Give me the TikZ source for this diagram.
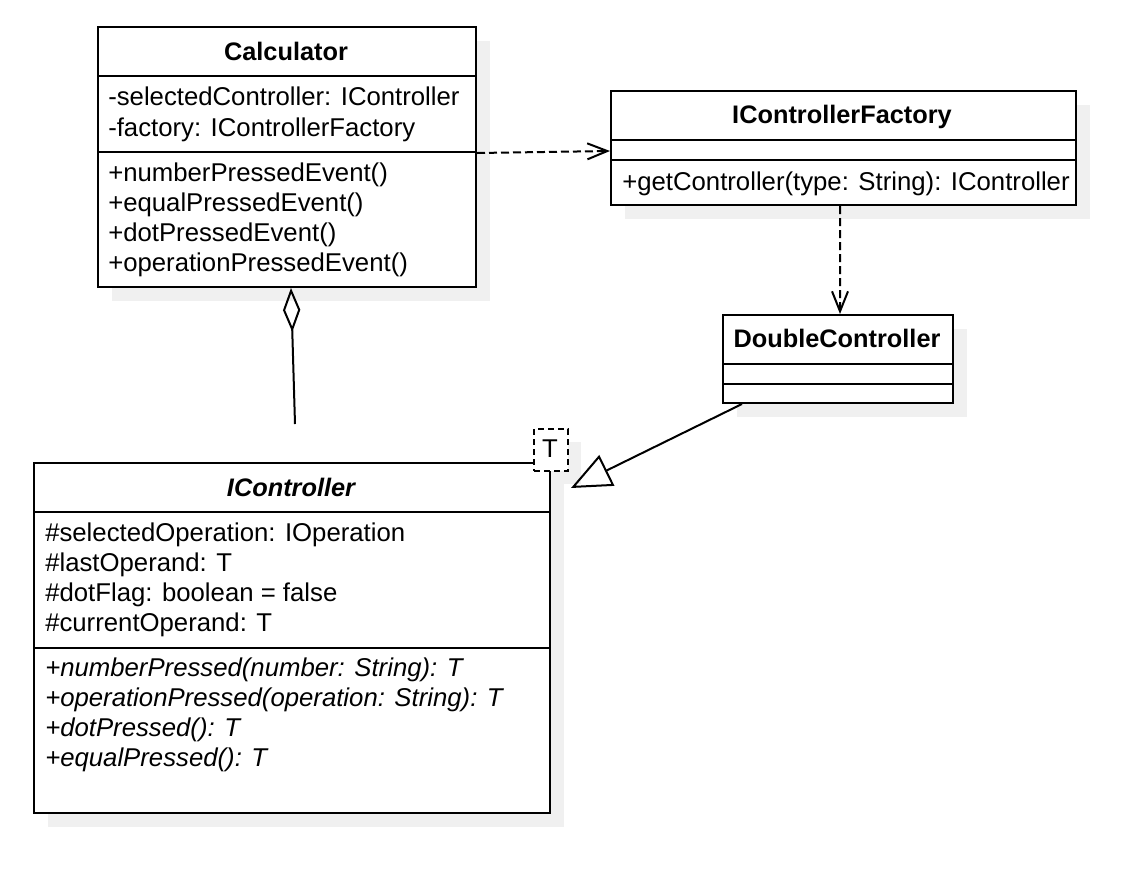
\documentclass[tikz,border=0pt]{standalone}
\usepackage{fontspec}
\setmainfont{Liberation Sans}
\usetikzlibrary{arrows.meta,shadows}
\definecolor{shadowgray}{RGB}{240,240,240}
\begin{document}
\begin{tikzpicture}[x=0.75pt,y=-0.75pt,
  cls/.style={draw, line width=1.5pt, fill=white, inner sep=0pt, anchor=north west,
    drop shadow={shadow xshift=10.5pt, shadow yshift=-10.5pt, fill=shadowgray, opacity=1}},
  txt/.style={anchor=base west, inner sep=0pt, font=\fontsize{19.3pt}{22.5pt}\selectfont},
  ttl/.style={anchor=base, inner sep=0pt, font=\fontsize{19pt}{22.5pt}\selectfont\bfseries},
  itxt/.style={txt, font=\fontsize{19.3pt}{22.5pt}\selectfont\itshape},
  sep/.style={line width=1.5pt},
  conn/.style={line width=1.5pt},
  dep/.style={conn, dash pattern=on 6pt off 3pt, -{Straight Barb[length=15pt,width=12pt,line width=1.5pt]}}]
\useasboundingbox (0,0) rectangle (1140,886);
\fill[white] (0,0) rectangle (1140,886);

% Calculator
\node[cls, minimum width=283.5pt, minimum height=195pt] (calc) at (97,26) {};
\draw[sep] (calc.north west) ++(0,50) -- ++(378,0);
\draw[sep] (calc.north west) ++(0,126) -- ++(378,0);
\node[ttl] (calcT) at (286,60) {Calculator};
\node[txt] (ca1) at (108,105) {-selectedController: IController};
\node[txt] (ca2) at (108,136) {-factory: IControllerFactory};
\node[txt] (cm1) at (108,181) {+numberPressedEvent()};
\node[txt] (cm2) at (108,211) {+equalPressedEvent()};
\node[txt] (cm3) at (108,241) {+dotPressedEvent()};
\node[txt] (cm4) at (108,271) {+operationPressedEvent()};

% IControllerFactory
\node[cls, minimum width=348.75pt, minimum height=85.5pt] (fact) at (610,90) {};
\draw[sep] (fact.north west) ++(0,50) -- ++(465,0);
\draw[sep] (fact.north west) ++(0,70) -- ++(465,0);
\node[ttl] (factT) at (842,123) {IControllerFactory};
\node[txt] (fm1) at (622,190) {+getController(type: String): IController};

% DoubleController
\node[cls, minimum width=172.5pt, minimum height=66pt] (dbl) at (722,314) {};
\draw[sep] (dbl.north west) ++(0,50) -- ++(230,0);
\draw[sep] (dbl.north west) ++(0,70) -- ++(230,0);
\node[ttl] (dblT) at (837,347) {DoubleController};

% IController
\fill[shadowgray] (547,442) rectangle (581,484);
\node[cls, minimum width=387pt, minimum height=262.5pt] (ictl) at (33,462) {};
\draw[sep] (ictl.north west) ++(0,50) -- ++(516,0);
\draw[sep] (ictl.north west) ++(0,186) -- ++(516,0);
\node[ttl, font=\fontsize{19pt}{22.5pt}\selectfont\bfseries\itshape] (ictlT) at (291,496) {IController};
\node[txt] (ia1) at (45,541) {\#selectedOperation: IOperation};
\node[txt] (ia2) at (45,571) {\#lastOperand: T};
\node[txt] (ia3) at (45,601) {\#dotFlag: boolean = false};
\node[txt] (ia4) at (45,631) {\#currentOperand: T};
\node[itxt] (im1) at (45,676) {+numberPressed(number: String): T};
\node[itxt] (im2) at (45,706) {+operationPressed(operation: String): T};
\node[itxt] (im3) at (45,736) {+dotPressed(): T};
\node[itxt] (im4) at (45,766) {+equalPressed(): T};

% template parameter box
\node[draw, fill=white, line width=1.5pt, dash pattern=on 4.5pt off 3pt, inner sep=0pt,
  anchor=north west, minimum width=25.5pt, minimum height=31.5pt] (tbox) at (533,428) {};
\node[anchor=base, inner sep=0pt, font=\fontsize{19.3pt}{22.5pt}\selectfont] (tlbl) at (550,457) {T};

% connectors
\draw[dep] ([yshift=3pt]calc.east) -- ([yshift=-2.25pt]fact.west);
\draw[dep] ([xshift=-2.6pt]fact.south) -- ([xshift=1.5pt]dbl.north);
\draw[conn, -{Triangle[open, length=30pt, width=25.5pt, line width=1.5pt]}]
  ([xshift=15pt]dbl.south west) -- ([xshift=1.5pt,yshift=-12pt]tbox.south east);
\draw[conn, {Diamond[open, length=33pt, width=13pt, line width=1.5pt]}-]
  ([xshift=3pt]calc.south) -- ([xshift=2.25pt,yshift=28.5pt]ictl.north);
\end{tikzpicture}
\end{document}
